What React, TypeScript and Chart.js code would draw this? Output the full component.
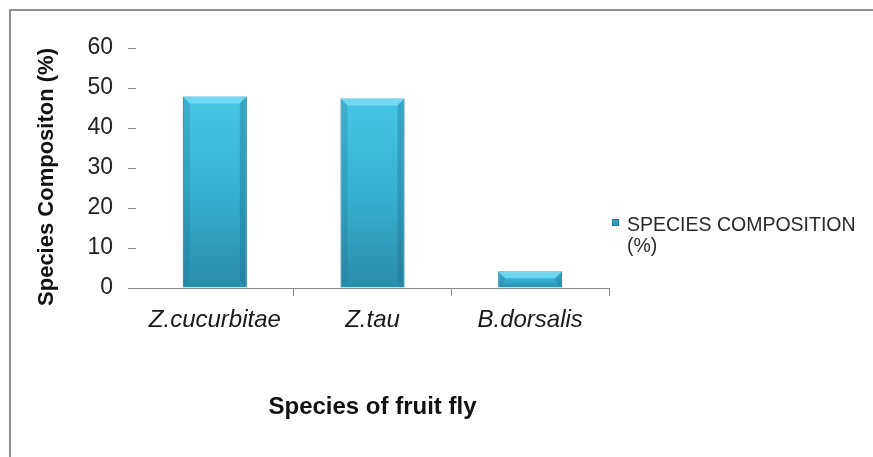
import React, { useEffect, useRef } from "react";
import { Chart, registerables } from "chart.js";

Chart.register(...registerables);

const categories = ["Z.cucurbitae", "Z.tau", "B.dorsalis"];
const compositionValues = [47.9, 47.4, 4.2];
const seriesLabel = "SPECIES COMPOSITION (%)";
const legendLines = ["SPECIES COMPOSITION", "(%)"];
const yTitle = "Species Compositon (%)";
const xTitle = "Species of fruit fly";
const yMin = 0;
const yMax = 60;
const yStep = 10;

const W = 873;
const H = 457;
const FONT = "Arial, 'Liberation Sans', sans-serif";

const framePlugin = {
  id: "frame",
  beforeDraw(chart: any) {
    const ctx = chart.ctx;
    ctx.save();
    ctx.fillStyle = "#ffffff";
    ctx.fillRect(0, 0, chart.width, chart.height);
    ctx.strokeStyle = "#8e8e8e";
    ctx.lineWidth = 2;
    ctx.beginPath();
    ctx.moveTo(10, chart.height + 5);
    ctx.lineTo(10, 10);
    ctx.lineTo(chart.width + 5, 10);
    ctx.stroke();
    ctx.restore();
  },
};

const bevelPlugin = {
  id: "bevel",
  afterDatasetsDraw(chart: any) {
    const ctx = chart.ctx;
    const meta = chart.getDatasetMeta(0);
    ctx.save();
    meta.data.forEach((bar: any) => {
      const { x, y, width, base } = bar.getProps(["x", "y", "width", "base"], true);
      const l = x - width / 2;
      const r = x + width / 2;
      const h = base - y;
      const b = Math.min(7, h / 2);
      ctx.fillStyle = "rgba(120,220,245,0.85)";
      ctx.beginPath();
      ctx.moveTo(l, y);
      ctx.lineTo(r, y);
      ctx.lineTo(r - b, y + b);
      ctx.lineTo(l + b, y + b);
      ctx.closePath();
      ctx.fill();
      ctx.fillStyle = "rgba(30,110,140,0.35)";
      ctx.beginPath();
      ctx.moveTo(r, y);
      ctx.lineTo(r, base);
      ctx.lineTo(r - b, base - b);
      ctx.lineTo(r - b, y + b);
      ctx.closePath();
      ctx.fill();
      ctx.fillStyle = "rgba(30,110,140,0.25)";
      ctx.beginPath();
      ctx.moveTo(l, y);
      ctx.lineTo(l, base);
      ctx.lineTo(l + b, base - b);
      ctx.lineTo(l + b, y + b);
      ctx.closePath();
      ctx.fill();
    });
    ctx.restore();
  },
};

const textPlugin = {
  id: "extraText",
  afterDraw(chart: any) {
    const ctx = chart.ctx;
    const area = chart.chartArea;
    // legend
    const sx = area.right + 3;
    const sy = 219;
    ctx.save();
    ctx.fillStyle = "#2f9fc0";
    ctx.fillRect(sx, sy, 7, 7);
    ctx.strokeStyle = "#1f7d99";
    ctx.lineWidth = 1;
    ctx.strokeRect(sx + 0.5, sy + 0.5, 6, 6);
    ctx.fillStyle = "#2a2a2a";
    ctx.font = `19.5px ${FONT}`;
    ctx.textBaseline = "middle";
    ctx.textAlign = "left";
    legendLines.forEach((line, i) => {
      ctx.fillText(line, area.right + 18, 226 + i * 21);
    });
    ctx.restore();
    // y-axis title
    ctx.save();
    ctx.translate(47, (area.top + area.bottom) / 2 + 9);
    ctx.rotate(-Math.PI / 2);
    ctx.fillStyle = "#111";
    ctx.font = `bold 22px ${FONT}`;
    ctx.textAlign = "center";
    ctx.textBaseline = "middle";
    ctx.fillText(yTitle, 0, 0);
    ctx.restore();
  },
};

export default function App() {
  const canvasRef = useRef<HTMLCanvasElement | null>(null);

  useEffect(() => {
    const canvas = canvasRef.current;
    if (!canvas) return;
    const chart = new Chart(canvas, {
      type: "bar",
      data: {
        labels: categories,
        datasets: [
          {
            label: seriesLabel,
            data: compositionValues,
            backgroundColor: (context: any) => {
              const ch = context.chart;
              const yScale = ch.scales && ch.scales.y;
              if (!yScale || typeof context.raw !== "number") return "#38b3d3";
              const top = yScale.getPixelForValue(context.raw);
              const base = yScale.getPixelForValue(0);
              if (!isFinite(top) || !isFinite(base)) return "#38b3d3";
              const g = ch.ctx.createLinearGradient(0, top, 0, Math.max(base, top + 1));
              g.addColorStop(0, "#48c6e6");
              g.addColorStop(0.5, "#36b0d2");
              g.addColorStop(1, "#2a8cab");
              return g;
            },
            borderColor: "#2a8aa6",
            borderWidth: 1,
            barPercentage: 0.406,
            categoryPercentage: 1,
          },
        ],
      },
      options: {
        responsive: false,
        animation: false,
        maintainAspectRatio: false,
        layout: { padding: { left: 0, top: 48, right: 264, bottom: 0 } },
        plugins: {
          legend: { display: false },
          tooltip: { enabled: false },
          title: { display: false },
        },
        scales: {
          x: {
            type: "category",
            offset: true,
            afterFit: (scale: any) => {
              scale.height = 169;
            },
            grid: {
              offset: true,
              drawOnChartArea: false,
              drawTicks: true,
              tickLength: 8,
              tickColor: (ctx: any) => (ctx.index === 0 ? "rgba(0,0,0,0)" : "#8a8a8a"),
            },
            border: { display: true, color: "#8a8a8a", width: 1 },
            ticks: {
              color: "#1a1a1a",
              font: { family: FONT, size: 24, style: "italic" },
              padding: 10,
              maxRotation: 0,
              autoSkip: false,
            },
            title: {
              display: true,
              text: xTitle,
              color: "#111",
              font: { family: FONT, size: 24, weight: "bold" },
              padding: { top: 0, bottom: 35 },
            },
          },
          y: {
            min: yMin,
            max: yMax,
            afterFit: (scale: any) => {
              scale.width = 136;
            },
            grid: {
              drawOnChartArea: false,
              drawTicks: true,
              tickLength: 8,
              color: "#8a8a8a",
            },
            border: { display: false },
            ticks: {
              stepSize: yStep,
              color: "#222",
              font: { family: FONT, size: 23 },
              padding: 15,
            },
            title: { display: false },
          },
        },
      },
      plugins: [framePlugin, bevelPlugin, textPlugin],
    });
    return () => chart.destroy();
  }, []);

  return (
    <div style={{ position: "fixed", left: 0, top: 0, width: W, height: H, background: "#fff" }}>
      <canvas ref={canvasRef} width={W} height={H} style={{ display: "block", width: W, height: H }} />
    </div>
  );
}
